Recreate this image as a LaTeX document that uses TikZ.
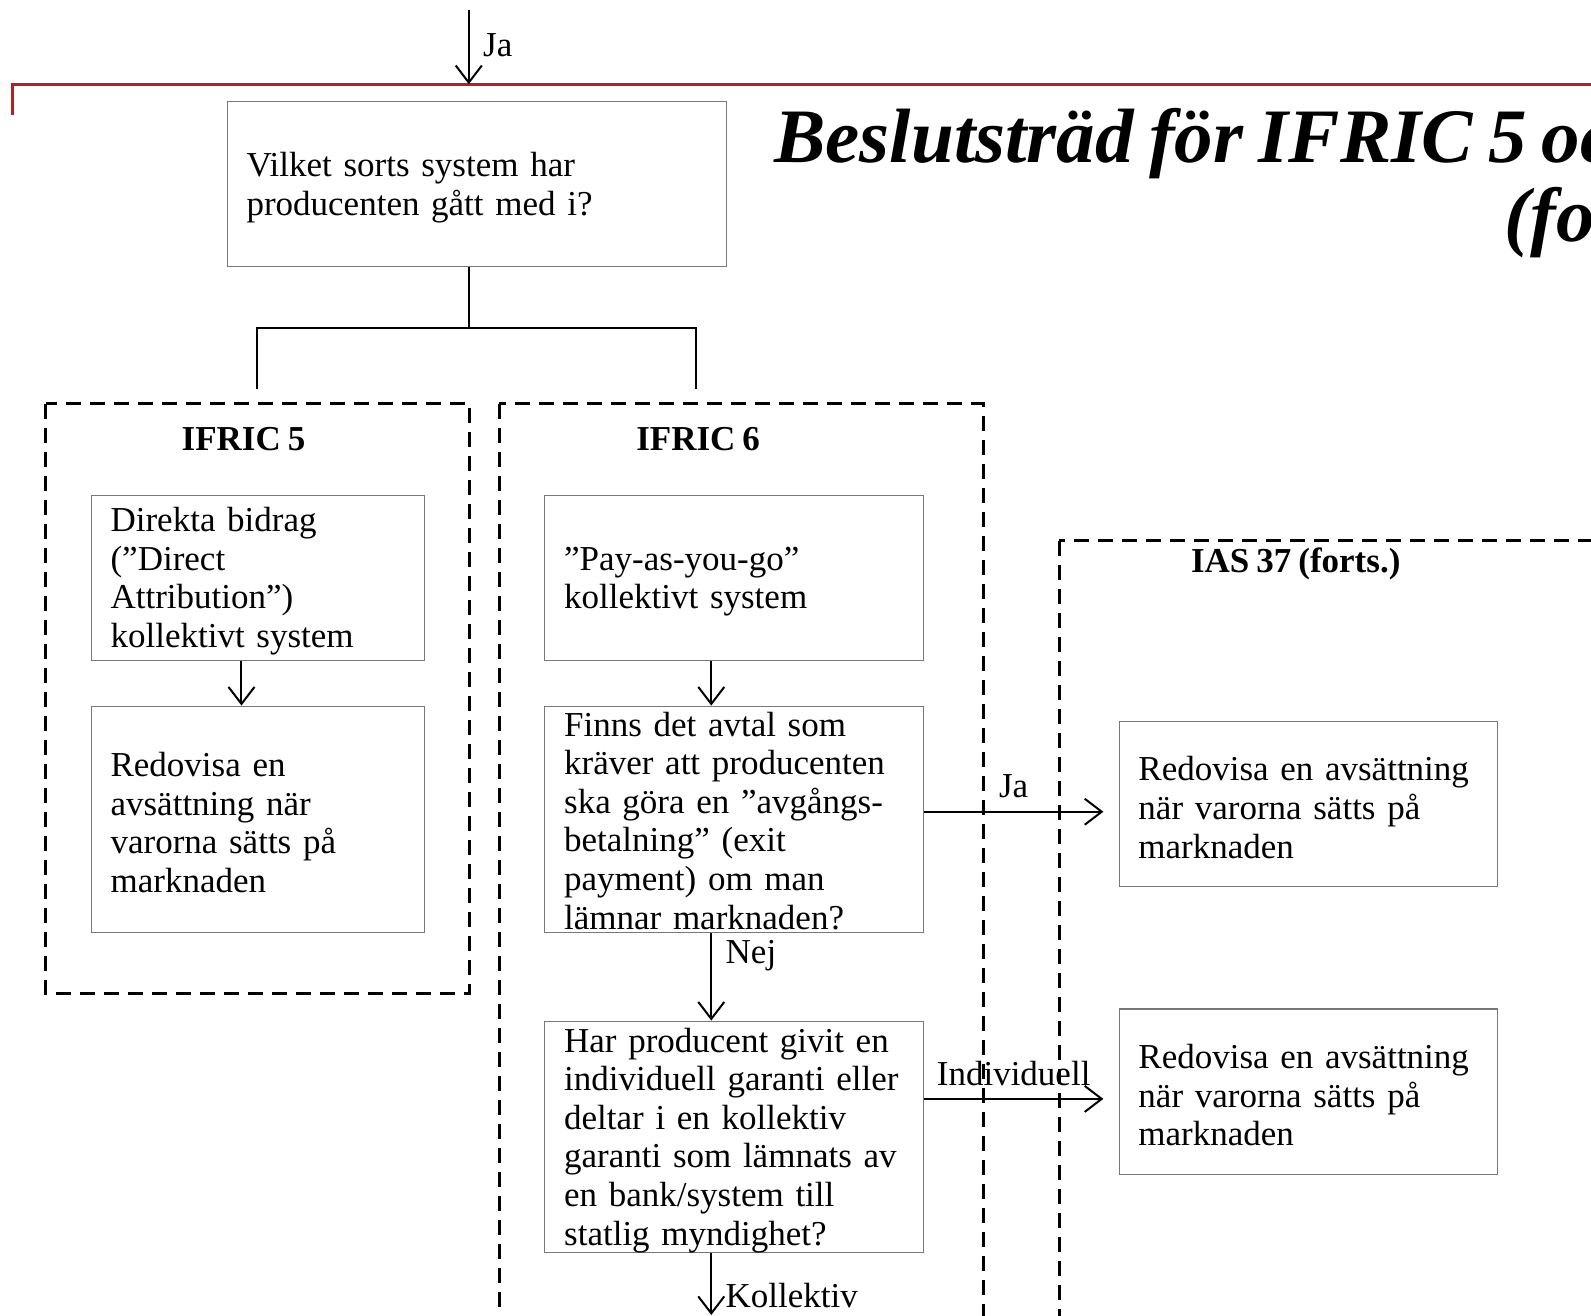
\documentclass[tikz,border=0pt]{standalone}
\usepackage{fontspec}
\setmainfont{Liberation Serif}[WordSpace=0.8]
\usetikzlibrary{arrows.meta}
\definecolor{rline}{RGB}{180,32,40}
\definecolor{boxgray}{RGB}{120,120,120}
\newcommand\bodyfont{\fontsize{35pt}{38.6pt}\selectfont}
\newcommand\tpad{\rule{0pt}{31pt}}
\newcommand\tpads{\rule{0pt}{27pt}}
\begin{document}
\begin{tikzpicture}[x=1.0147pt, y=-1.0147pt,
  box/.style={draw=boxgray, line width=1.2pt, rectangle, inner xsep=19.3pt, inner ysep=0pt, align=left, font=\bodyfont},
  wA/.style={text width=460.7pt, minimum width=499.2pt},
  wB/.style={text width=294.3pt, minimum width=332.8pt},
  wC/.style={text width=339.9pt, minimum width=378.5pt},
  hA/.style={minimum height=165.4pt},
  hB/.style={minimum height=226.3pt},
  arr/.style={-{Straight Barb[length=17pt,width=26pt]}, line width=2pt},
  conn/.style={line width=2.2pt},
  dbox/.style={line width=3pt, dash pattern=on 15pt off 9pt},
  lbl/.style={font=\bodyfont, inner sep=0pt},
  sect/.style={font=\bodyfont\bfseries, inner sep=0pt},
  ttl/.style={font=\fontsize{77pt}{82pt}\selectfont\bfseries\itshape, inner sep=0pt}
]
\useasboundingbox (0,0) rectangle (1568,1296);
\clip (0,0) rectangle (1568,1296);

% header
\draw[rline, line width=3pt] (12,113) -- (12,83) -- (1600,83);
\coordinate (topstart) at (462,10);
\coordinate (topend) at (462,83);
\draw[arr] (topstart) -- (topend);
\node[lbl, anchor=west] (jatop) at (476,45) {Ja};

% title (cut off by the right edge, as in the original)
\node[ttl, anchor=base west] (title1) at (763,160) {Beslutsträd för IFRIC 5 och 6};
\node[ttl, anchor=base west] (title2) at (1483,238) {(forts.)};

% first question
\node[box, wA, hA] (b1) at (470,181.5) {\tpad Vilket sorts system har\\producenten gått med i?};

% tree connector
\coordinate (split) at (462,323);
\coordinate (lend) at (253,383);
\coordinate (rend) at (686,383);
\draw[conn] (b1.south -| split) -- (split);
\draw[conn] (lend) -- (lend |- split) -- (rend |- split) -- (rend);

% dashed groups
\draw[dbox] (45,398) rectangle (463,979);
\draw[dbox] (492,398) rectangle (969,1320);
\draw[dbox] (1044,533) rectangle (1620,1320);

\node[sect] (s5) at (240,433) {IFRIC 5};
\node[sect] (s6) at (688,433) {IFRIC 6};
\node[sect] (s37) at (1277,556) {IAS 37 (forts.)};

% IFRIC 5
\node[box, wB, hA] (b5a) at (254,569.5) {\tpad Direkta bidrag\\(”Direct\\Attribution”)\\kollektivt system};
\node[box, wB, hB] (b5b) at (254,807.5) {\tpad Redovisa en\\avsättning när\\varorna sätts på\\marknaden};
\coordinate (x5) at (238,0);
\draw[arr] (b5a.south -| x5) -- (b5b.north -| x5);

% IFRIC 6
\node[box, wC, hA] (b6a) at (723.5,569.5) {\tpad ”Pay-as-you-go”\\kollektivt system};
\node[box, wC, hB] (b6b) at (723.5,807.5) {\tpads Finns det avtal som\\kräver att producenten\\ska göra en ”avgångs-\\betalning” (exit\\payment) om man\\lämnar marknaden?};
\node[box, wC, hB] (b6c) at (723.5,1120.5) {\tpad Har producent givit en\\individuell garanti eller\\deltar i en kollektiv\\garanti som lämnats av\\en bank/system till\\statlig myndighet?};
\coordinate (x6) at (701,0);
\coordinate (kend) at (701,1296);
\draw[arr] (b6a.south -| x6) -- (b6b.north -| x6);
\draw[arr] (b6b.south -| x6) -- (b6c.north -| x6);
\node[lbl, anchor=west] (nej) at (715,942) {Nej};
\draw[arr] (b6c.south -| x6) -- (kend);
\node[lbl, anchor=west] (koll) at (715,1277) {Kollektiv};

% IAS 37
\node[box, wC, hA] (r1) at (1289.5,792.5) {\tpad Redovisa en avsättning\\när varorna sätts på\\marknaden};
\node[box, wC, hA] (r2) at (1289.5,1076) {\tpad Redovisa en avsättning\\när varorna sätts på\\marknaden};
\coordinate (yja) at (0,800);
\coordinate (yind) at (0,1083);
\draw[arr, shorten >=15.2pt] (b6b.east |- yja) -- (r1.west |- yja);
\node[lbl] (ja2) at (999,775) {Ja};
\draw[arr, shorten >=15.2pt] (b6c.east |- yind) -- (r2.west |- yind);
\node[lbl] (ind) at (999,1058) {Individuell};
\end{tikzpicture}
\end{document}
